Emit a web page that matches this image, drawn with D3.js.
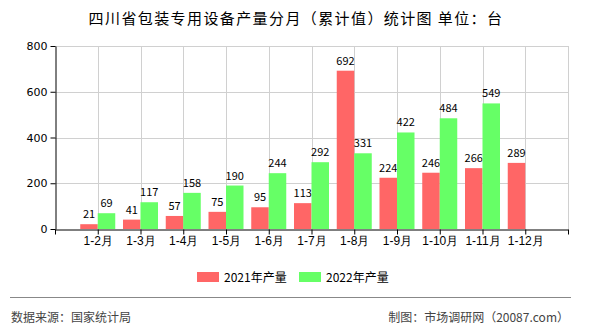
<!DOCTYPE html>
<html>
<head>
<meta charset="utf-8">
<script src="https://cdn.jsdelivr.net/npm/d3@7"></script>
<style>
  body { margin: 0; background: #fff; }
  svg { display: block; font-family: "Noto Sans CJK SC", "DejaVu Sans", sans-serif; }
</style>
</head>
<body>
<div id="chart"></div>
<script>
// data
var months = ["1-2月", "1-3月", "1-4月", "1-5月", "1-6月", "1-7月", "1-8月", "1-9月", "1-10月", "1-11月", "1-12月"];
var y2021 = [21, 41, 57, 75, 95, 113, 692, 224, 246, 266, 289];
var y2022 = [69, 117, 158, 190, 244, 292, 331, 422, 484, 549, null];
var yTicks = [0, 200, 400, 600, 800];
var seriesNames = ["2021年产量", "2022年产量"];
var colors = ["#ff6666", "#66ff66"];

var width = 590, height = 330;
var plotLeft = 55, plotRight = 568, plotTop = 46, plotBottom = 229;

var svg = d3.select("#chart").append("svg")
  .attr("width", width)
  .attr("height", height);

// title
svg.append("text")
  .attr("x", width / 2 + 1)
  .attr("y", 24)
  .attr("text-anchor", "middle")
  .attr("font-size", 15)
  .attr("letter-spacing", 1.4)
  .attr("fill", "#000")
  .text("四川省包装专用设备产量分月（累计值）统计图 单位：台");

var step = (plotRight - plotLeft) / 12;

// category centres sit on band edges, one step in from the left
var x = d3.scalePoint().domain(months).range([plotLeft + step, plotRight - step]);
var edge = d3.scaleLinear().domain([0, 12]).range([plotLeft, plotRight]);
var y = d3.scaleLinear().domain([0, 800]).range([plotBottom, plotTop]);

// grid
svg.append("g")
  .selectAll("line")
  .data(yTicks.slice(1))
  .join("line")
  .attr("x1", plotLeft).attr("x2", plotRight)
  .attr("y1", function (d) { return Math.round(y(d)) + 0.5; })
  .attr("y2", function (d) { return Math.round(y(d)) + 0.5; })
  .attr("stroke", "#d0d0d0");

svg.append("g")
  .selectAll("line")
  .data(d3.range(1, 13))
  .join("line")
  .attr("x1", function (d) { return Math.round(edge(d)) + 0.5; })
  .attr("x2", function (d) { return Math.round(edge(d)) + 0.5; })
  .attr("y1", plotTop).attr("y2", plotBottom)
  .attr("stroke", "#d0d0d0");

// bars
var bw = 17.5;
var series = [y2021, y2022];
series.forEach(function (vals, si) {
  var g = svg.append("g");
  var pts = months.map(function (m, i) { return { m: m, v: vals[i] }; })
    .filter(function (d) { return d.v != null; });

  g.selectAll("rect")
    .data(pts)
    .join("rect")
    .attr("x", function (d) { return x(d.m) - bw + si * bw; })
    .attr("y", function (d) { return y(d.v); })
    .attr("width", bw)
    .attr("height", function (d) { return plotBottom - y(d.v); })
    .attr("fill", colors[si]);

  g.selectAll("text")
    .data(pts)
    .join("text")
    .attr("x", function (d) { return x(d.m) - bw / 2 + si * bw; })
    .attr("y", function (d) { return y(d.v) - 6; })
    .attr("text-anchor", "middle")
    .attr("font-size", 11)
    .attr("fill", "#000")
    .text(function (d) { return d.v; });
});

// y axis
var yAxis = svg.append("g")
  .attr("transform", "translate(" + (plotLeft + 0.5) + ",0)")
  .call(d3.axisLeft(y).tickValues(yTicks).tickSize(5).tickSizeOuter(0));
yAxis.select(".domain").attr("stroke", "#000");
yAxis.selectAll(".tick line").attr("stroke", "#000");
yAxis.selectAll("text").attr("font-size", 11).attr("fill", "#000")
  .style("font-family", "'DejaVu Sans', sans-serif");

// x axis: ticks on band edges, labels at category centres
var xTicks = svg.append("g")
  .attr("transform", "translate(0," + (plotBottom + 0.5) + ")")
  .call(d3.axisBottom(edge).tickValues(d3.range(13)).tickSize(5).tickFormat("").tickSizeOuter(0));
xTicks.select(".domain").attr("stroke", "#000");
xTicks.selectAll(".tick line").attr("stroke", "#000");

var xLabels = svg.append("g")
  .attr("transform", "translate(0," + (plotBottom + 0.5) + ")")
  .call(d3.axisBottom(x).tickSize(0).tickPadding(7));
xLabels.select(".domain").remove();
xLabels.selectAll("text").attr("font-size", 12).attr("fill", "#000");

// legend
var legend = svg.append("g").attr("transform", "translate(0,272)");
var lx = [197, 299];
seriesNames.forEach(function (name, i) {
  legend.append("rect")
    .attr("x", lx[i]).attr("y", 0)
    .attr("width", 22).attr("height", 10)
    .attr("fill", colors[i]);
  legend.append("text")
    .attr("x", lx[i] + 27).attr("y", 9.5)
    .attr("font-size", 12)
    .attr("fill", "#000")
    .text(name);
});

// footer
svg.append("line")
  .attr("x1", 10).attr("x2", 571)
  .attr("y1", 297.5).attr("y2", 297.5)
  .attr("stroke", "#888");

svg.append("text")
  .attr("x", 11).attr("y", 322)
  .attr("font-size", 12)
  .attr("fill", "#444")
  .text("数据来源：国家统计局");

svg.append("text")
  .attr("x", 569).attr("y", 322)
  .attr("text-anchor", "end")
  .attr("font-size", 12)
  .attr("fill", "#444")
  .text("制图：市场调研网（20087.com）");
</script>
</body>
</html>
